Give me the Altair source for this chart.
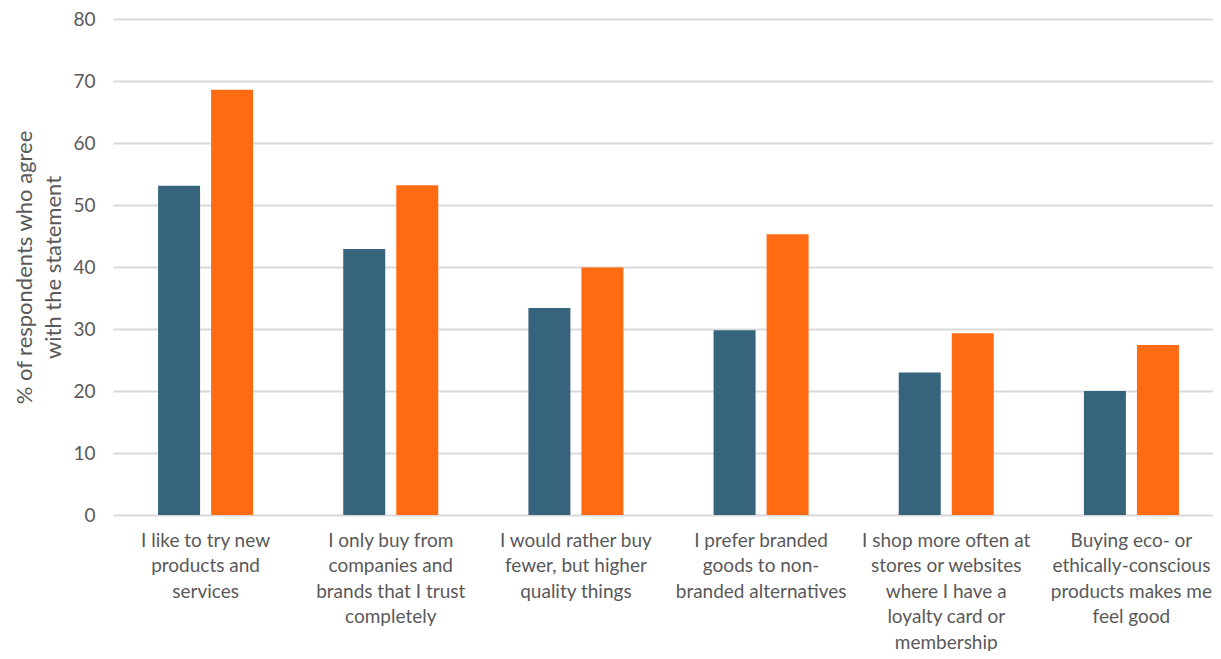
import altair as alt
import pandas as pd

categories = [
    "I like to try new\nproducts and\nservices",
    "I only buy from\ncompanies and\nbrands that I trust\ncompletely",
    "I would rather buy\nfewer, but higher\nquality things",
    "I prefer branded\ngoods to non-\nbranded alternatives",
    "I shop more often at\nstores or websites\nwhere I have a\nloyalty card or\nmembership",
    "Buying eco- or\nethically-conscious\nproducts makes me\nfeel good",
]
series_names = ["Series A", "Series B"]
series_a = [53.1, 42.9, 33.4, 29.8, 23.0, 20.0]
series_b = [68.6, 53.2, 39.9, 45.3, 29.3, 27.4]
colors = ["#35647C", "#FF6B13"]

rows = []
for c, a, b in zip(categories, series_a, series_b):
    rows.append({"cat": c, "series": series_names[0], "value": a})
    rows.append({"cat": c, "series": series_names[1], "value": b})
df = pd.DataFrame(rows)

FONT = "Lato"
GRAY = "#595959"

chart = alt.Chart(df).mark_bar(size=42, clip=False).encode(
    x=alt.X("cat:N", sort=categories,
            scale=alt.Scale(paddingInner=0.487, paddingOuter=0.2435, range=[0, 1111]),
            axis=alt.Axis(title=None, labelAngle=0,
                          labelExpr="split(datum.label, '\\n')",
                          labelFont=FONT, labelFontSize=19, labelColor=GRAY,
                          labelLineHeight=25.5, labelPadding=16,
                          labelLimit=300,
                          ticks=False, domain=False,
                          labelBaseline="top")),
    xOffset=alt.XOffset("series:N", sort=series_names,
                        scale=alt.Scale(paddingInner=0.208, paddingOuter=0)),
    y=alt.Y("value:Q",
            scale=alt.Scale(domain=[0, 80], nice=False),
            axis=alt.Axis(values=list(range(0, 81, 10)),
                          title=["% of respondents who agree", "with the statement"],
                          titleFont=FONT, titleFontSize=22, titleColor=GRAY,
                          titleFontWeight="normal", titlePadding=7,
                          titleLineHeight=29,
                          labelFont=FONT, labelFontSize=19, labelColor=GRAY,
                          labelPadding=18,
                          ticks=False, domain=False,
                          gridColor="#D9D9D9", gridWidth=1.8)),
    color=alt.Color("series:N", sort=series_names,
                    scale=alt.Scale(domain=series_names, range=colors),
                    legend=None),
).properties(
    width=1100, height=496,
    autosize=alt.AutoSizeParams(type="none"),
    padding={"left": 105, "top": 11, "right": 0, "bottom": 136},
).configure_view(stroke=None)

chart.save("out.html", embed_options={"renderer": "svg", "actions": False})
